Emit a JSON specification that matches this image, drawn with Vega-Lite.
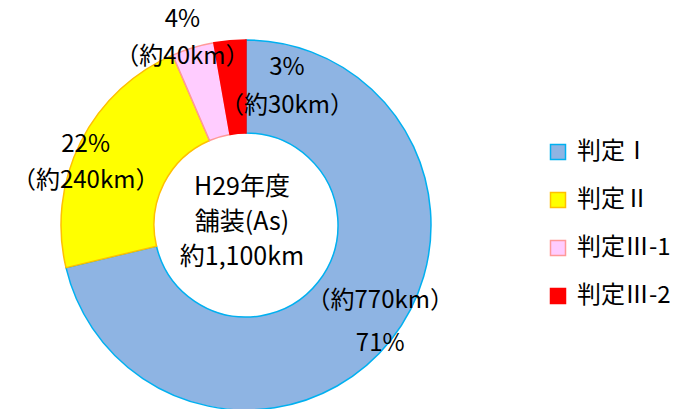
{
  "$schema": "https://vega.github.io/schema/vega-lite/v6.json",
  "width": 492,
  "height": 450,
  "padding": 0,
  "background": "white",
  "config": {"view": {"stroke": null}, "font": "Noto Sans CJK JP", "text": {"font": "Noto Sans CJK JP", "color": "black"}},
  "datasets": {
    "d": [
      {"cat": "判定Ⅰ", "n": 1, "v": 770, "lab": "（約770km）\n71%"},
      {"cat": "判定Ⅱ", "n": 2, "v": 240, "lab": "22%\n（約240km）"},
      {"cat": "判定Ⅲ-1", "n": 3, "v": 40, "lab": "4%\n（約40km）"},
      {"cat": "判定Ⅲ-2", "n": 4, "v": 30, "lab": "3%\n（約30km）"}
    ],
    "c": [{"t": "H29年度\n舗装(As)\n約1,100km"}]
  },
  "layer": [
    {
      "data": {"name": "d"},
      "mark": {"type": "arc", "outerRadius": 185, "innerRadius": 92, "strokeWidth": 1.5},
      "encoding": {
        "theta": {"field": "v", "type": "quantitative", "stack": true},
        "order": {"field": "n", "type": "quantitative"},
        "color": {"field": "cat", "type": "nominal",
          "scale": {"domain": ["判定Ⅰ", "判定Ⅱ", "判定Ⅲ-1", "判定Ⅲ-2"], "range": ["#8EB4E3", "#FFFF00", "#FFCCFF", "#FF0000"]},
          "legend": {"title": null, "orient": "none", "legendX": 546, "legendY": 140, "symbolType": "square", "symbolSize": 225, "symbolStrokeWidth": 1.5, "labelFontSize": 24, "labelFont": "Noto Sans CJK JP", "labelColor": "black", "rowPadding": 24, "labelOffset": 7, "padding": 0}},
        "stroke": {"field": "cat", "type": "nominal",
          "scale": {"domain": ["判定Ⅰ", "判定Ⅱ", "判定Ⅲ-1", "判定Ⅲ-2"], "range": ["#00B0F0", "#FFC000", "#FF9999", "#FF0000"]},
          "legend": {"title": null, "orient": "none", "legendX": 546, "legendY": 140, "symbolType": "square", "symbolSize": 225, "symbolStrokeWidth": 1.5, "labelFontSize": 24, "labelFont": "Noto Sans CJK JP", "labelColor": "black", "rowPadding": 24, "labelOffset": 7, "padding": 0}}
      }
    },
    {
      "data": {"name": "d"},
      "mark": {"type": "text", "radius": 138, "dx": 26, "dy": -10, "fontSize": 24, "lineBreak": "\n", "lineHeight": 43},
      "encoding": {
        "theta": {"field": "v", "type": "quantitative", "stack": true},
        "order": {"field": "n", "type": "quantitative"},
        "text": {"condition": {"test": "datum.n === 1", "field": "lab"}, "value": ""}
      }
    },
    {
      "data": {"name": "d"},
      "mark": {"type": "text", "radius": 138, "dx": -37, "dy": -18, "fontSize": 24, "lineBreak": "\n", "lineHeight": 36},
      "encoding": {
        "theta": {"field": "v", "type": "quantitative", "stack": true},
        "order": {"field": "n", "type": "quantitative"},
        "text": {"condition": {"test": "datum.n === 2", "field": "lab"}, "value": ""}
      }
    },
    {
      "data": {"name": "d"},
      "mark": {"type": "text", "radius": 138, "dx": -24, "dy": -73, "fontSize": 24, "lineBreak": "\n", "lineHeight": 37},
      "encoding": {
        "theta": {"field": "v", "type": "quantitative", "stack": true},
        "order": {"field": "n", "type": "quantitative"},
        "text": {"condition": {"test": "datum.n === 3", "field": "lab"}, "value": ""}
      }
    },
    {
      "data": {"name": "d"},
      "mark": {"type": "text", "radius": 138, "dx": 53, "dy": -20, "fontSize": 24, "lineBreak": "\n", "lineHeight": 38},
      "encoding": {
        "theta": {"field": "v", "type": "quantitative", "stack": true},
        "order": {"field": "n", "type": "quantitative"},
        "text": {"condition": {"test": "datum.n === 4", "field": "lab"}, "value": ""}
      }
    },
    {
      "data": {"name": "c"},
      "mark": {"type": "text", "fontSize": 25, "lineBreak": "\n", "lineHeight": 35, "dx": -4, "dy": -38},
      "encoding": {"text": {"field": "t", "type": "nominal"}}
    }
  ]
}
